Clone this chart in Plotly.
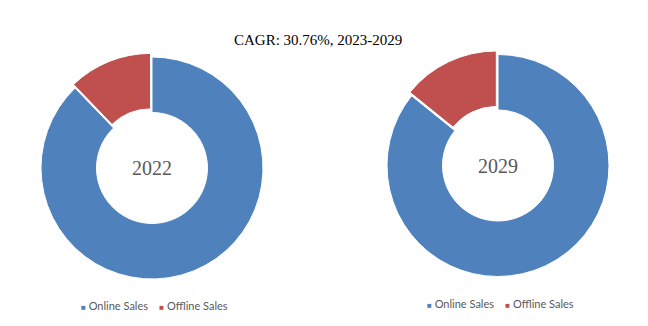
import plotly.graph_objects as go

# Sales channel split (%)
labels = ["Online Sales", "Offline Sales"]
share_2022 = [87.8, 12.2]
share_2029 = [85.8, 14.2]
years = ["2022", "2029"]
title_text = "CAGR: 30.76%, 2023-2029"

colors = ["#4F81BD", "#C0504D"]
W, H = 648, 326

fig = go.Figure()

# pie geometry in pixels: (center x, center y from top, radius)
pies = [(152, 168, 111, share_2022, years[0]),
        (498, 165.5, 111, share_2029, years[1])]
pull = [0, 0.035]

for cx, cy, r, vals, yr in pies:
    half = r * (1 + max(pull))
    cyb = H - cy
    fig.add_trace(go.Pie(
        labels=labels, values=vals, hole=0.5, sort=False,
        direction="clockwise", rotation=0, pull=pull,
        marker=dict(colors=colors, line=dict(color="white", width=1)),
        textinfo="none", hoverinfo="label+percent", showlegend=False,
        domain=dict(x=[(cx - half) / W, (cx + half) / W],
                    y=[(cyb - half) / H, (cyb + half) / H]),
    ))
    fig.add_annotation(x=cx / W, y=cyb / H, xref="paper", yref="paper",
                       xanchor="center", yanchor="middle",
                       text=yr, showarrow=False,
                       font=dict(family="Liberation Serif", size=20, color="#595959"))

# title
fig.add_annotation(x=318 / W, y=(H - 40) / H, xref="paper", yref="paper",
                   xanchor="center", yanchor="middle",
                   text=title_text, showarrow=False,
                   font=dict(family="Liberation Serif", size=15, color="#000000"))

# legends under each donut
legend_pos = [(154, 305), (500, 303)]
for lx, ly in legend_pos:
    parts = []
    for lab, col in zip(labels, colors):
        parts.append(f"<span style='color:{col};font-size:8px'>■</span> {lab}")
    fig.add_annotation(x=lx / W, y=(H - ly) / H, xref="paper", yref="paper",
                       xanchor="center", yanchor="middle",
                       text="    ".join(parts), showarrow=False,
                       font=dict(family="Lato", size=11, color="#595959"))

fig.update_layout(width=W, height=H, margin=dict(l=0, r=0, t=0, b=0),
                  paper_bgcolor="white", plot_bgcolor="white")
fig.write_html("out.html")
